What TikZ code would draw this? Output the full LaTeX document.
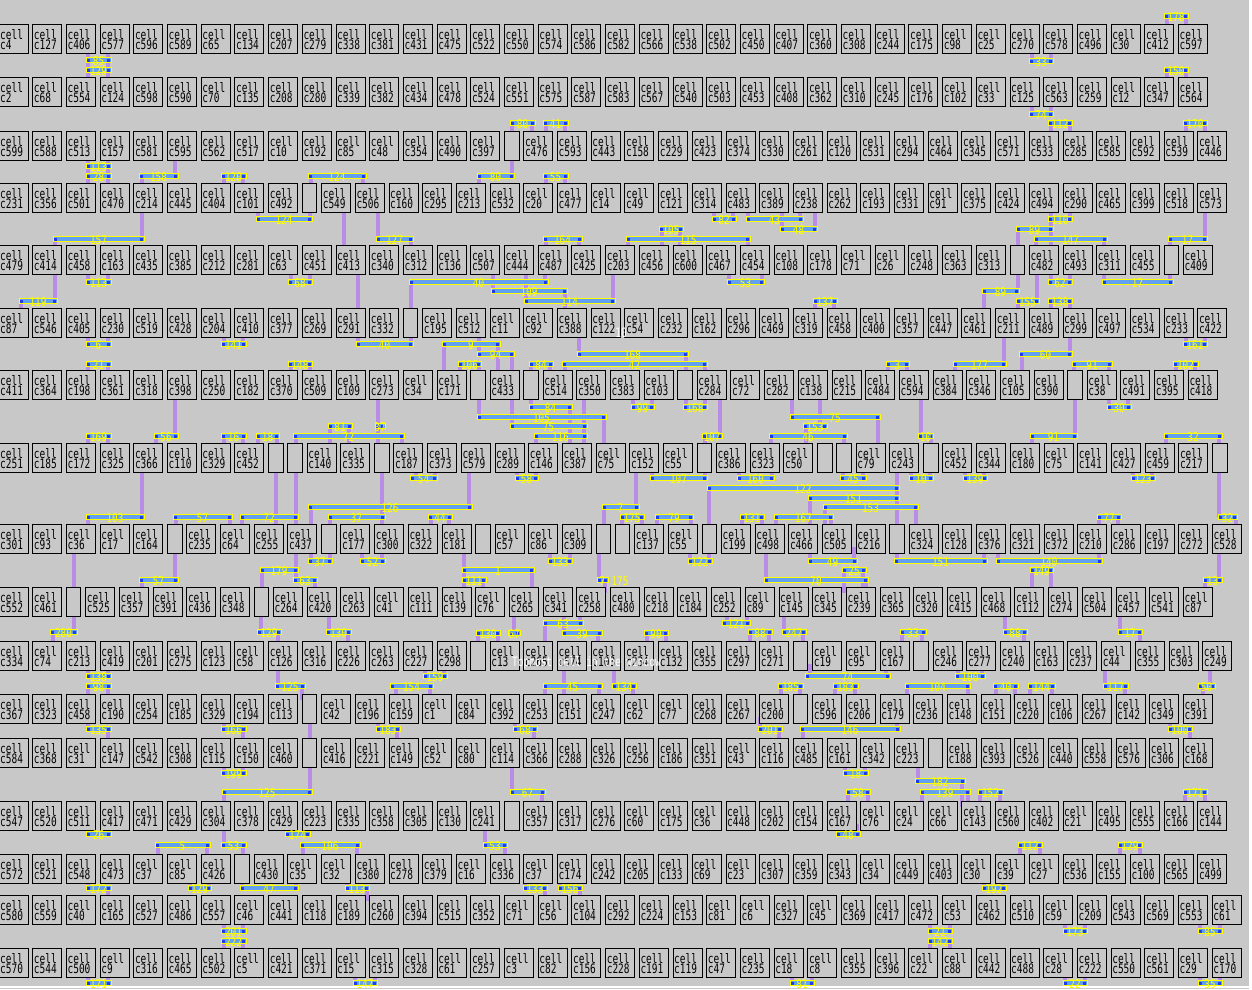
\documentclass[tikz,border=0pt]{standalone}
\usepackage{fontspec}
\newfontfamily\cellfont{DejaVu Sans Mono}[FakeStretch=0.73]
\newfontfamily\labelfont{DejaVu Sans Mono}[FakeStretch=0.78]
\usetikzlibrary{positioning}

\definecolor{bggray}{RGB}{200,200,200}
\definecolor{wirepurple}{RGB}{185,140,230}
\definecolor{barblue}{RGB}{100,160,240}
\definecolor{pinblue}{RGB}{30,60,235}
\definecolor{netyellow}{RGB}{255,255,0}

\pgfdeclarelayer{bg}
\pgfdeclarelayer{wires}
\pgfdeclarelayer{bars}
\pgfsetlayers{bg,wires,main,bars}

\newcount\gapno
\def\gapmark{-}
% one placement row: top y, list of cells (- = empty narrow slot)
\newcommand{\cellrow}[2]{%
  \xdef\cx{-1}%
  \foreach \c in {#2}{%
    \edef\tmpc{\c}%
    \ifx\tmpc\gapmark
      \global\advance\gapno by 1
      \node[gapbox] (gap\the\gapno) at (\cx,#1) {};
      \pgfmathsetmacro\nx{\cx+19.3}%
    \else
      \node[cellbox] (\c) at (\cx,#1) {};
      \node[celltxt] at ([shift={(1pt,-5pt)}]\c.north west) {cell\\\c};
      \pgfmathsetmacro\nx{\cx+33.7}%
    \fi
    \xdef\cx{\nx}%
  }}
% net segment: x1, x2, y, label, pins x/y
\newcommand{\net}[5]{%
  \begin{pgfonlayer}{wires}
    \foreach \px/\py in {#5}{\draw[wire] (\px,#3) -- (\px,\py);}
  \end{pgfonlayer}
  \begin{pgfonlayer}{bars}
    \draw[netbar] (#1,#3-2.5) rectangle (#2,#3+2.5);
    \fill[pinblue] (#1+1,#3-1.5) rectangle ++(3,3);
    \fill[pinblue] (#2-4,#3-1.5) rectangle ++(3,3);
    \node[netlabel] at ({(#1+#2)/2},#3+1) {#4};
  \end{pgfonlayer}}
\newcommand{\wire}[3]{%
  \begin{pgfonlayer}{wires}\draw[wire] (#1,#2) -- (#1,#3);\end{pgfonlayer}}

\begin{document}
\begin{tikzpicture}[
    x=1pt, y=-1pt,
    cellbox/.style={draw=black, line width=1pt, fill=bggray, minimum width=29pt, minimum height=29pt, inner sep=0pt, outer sep=0pt, anchor=north west},
    gapbox/.style={cellbox, minimum width=14.5pt},
    celltxt/.style={font=\cellfont\fontsize{13}{10}\selectfont, align=left, inner sep=0pt, anchor=north west},
    wire/.style={wirepurple, line width=4.5pt},
    netbar/.style={fill=barblue, draw=netyellow, line width=0.9pt},
    netlabel/.style={font=\labelfont\fontsize{12}{12}\selectfont, text=netyellow, inner sep=0pt},
    note/.style={font=\cellfont\fontsize{13}{13}\selectfont, text=white, inner sep=0pt}
]
\useasboundingbox (0,0) rectangle (1252,989);
\begin{pgfonlayer}{bg}
  \fill[bggray] (0,0) rectangle (1252,989);
  \fill[white] (1249,0) rectangle (1252,989);
  \fill[white] (0,986) rectangle (1252,988);
\end{pgfonlayer}

% placement rows
\cellrow{24}{c4,c127,c406,c577,c596,c589,c65,c134,c207,c279,c338,c381,c431,c475,c522,c550,c574,c586,c582,c566,c538,c502,c450,c407,c360,c308,c244,c175,c98,c25,c270,c578,c496,c30,c412,c597}
\cellrow{77}{c2,c68,c554,c124,c598,c590,c70,c135,c208,c280,c339,c382,c434,c478,c524,c551,c575,c587,c583,c567,c540,c503,c453,c408,c362,c310,c245,c176,c102,c33,c125,c563,c259,c12,c347,c564}
\cellrow{131}{c599,c588,c513,c157,c581,c595,c562,c517,c10,c192,c85,c48,c354,c490,c397,-,c476,c593,c443,c158,c229,c423,c374,c330,c261,c120,c531,c294,c464,c345,c571,c533,c285,c585,c592,c539,c446}
\cellrow{183}{c231,c356,c501,c470,c214,c445,c404,c101,c492,-,c549,c506,c160,c295,c213,c532,c20,c477,c14,c49,c121,c314,c483,c389,c238,c262,c193,c331,c91,c375,c424,c494,c290,c465,c399,c518,c573}
\cellrow{245}{c479,c414,c458,c163,c435,c385,c212,c281,c63,c451,c413,c340,c312,c136,c507,c444,c487,c425,c203,c456,c600,c467,c454,c108,c178,c71,c26,c248,c363,c313,-,c482,c493,c311,c455,-,c409}
\cellrow{308}{c87,c546,c405,c230,c519,c428,c204,c410,c377,c269,c291,c332,-,c195,c512,c11,c92,c388,c122,c54,c232,c162,c296,c469,c319,c458,c400,c357,c447,c461,c211,c489,c299,c497,c534,c233,c422}
\cellrow{370}{c411,c364,c198,c361,c318,c398,c250,c182,c370,c509,c109,c273,c34,c171,-,c433,-,c514,c350,c383,c103,-,c284,c72,c282,c138,c215,c484,c594,c384,c346,c105,c390,-,c38,c491,c395,c418}
\cellrow{443}{c251,c185,c172,c325,c366,c110,c329,c452,-,-,c140,c335,-,c187,c373,c579,c289,c146,c387,c75,c152,c55,-,c386,c323,c50,-,-,c79,c243,-,c452,c344,c180,c75,c141,c427,c459,c217,-}
\cellrow{524}{c301,c93,c36,c17,c164,-,c235,c64,c255,c437,-,c177,c300,c322,c181,-,c57,c86,c309,-,-,c137,c55,-,c199,c498,c466,c505,c216,-,c324,c128,c376,c321,c372,c210,c286,c197,c272,c528}
\cellrow{587}{c552,c461,-,c525,c357,c391,c436,c348,-,c264,c420,c263,c41,c111,c139,c76,c265,c341,c258,c480,c218,c184,c252,c89,c145,c345,c239,c365,c320,c415,c468,c112,c274,c504,c457,c541,c87}
\cellrow{641}{c334,c74,c213,c419,c201,c275,c123,c58,c126,c316,c226,c263,c227,c298,-,c13,c265,c574,c103,c234,c132,c355,c297,c271,-,c19,c95,c167,-,c246,c277,c240,c163,c237,c44,c355,c303,c249}
\cellrow{694}{c367,c323,c458,c190,c254,c185,c329,c194,c113,-,c42,c196,c159,c1,c84,c392,c253,c151,c247,c62,c77,c268,c267,c200,-,c596,c206,c179,c236,c148,c151,c220,c106,c267,c142,c349,c391}
\cellrow{738}{c584,c368,c31,c147,c542,c308,c115,c150,c460,-,c416,c221,c149,c52,c80,c114,c366,c288,c326,c256,c186,c351,c43,c116,c485,c161,c342,c223,-,c188,c393,c526,c440,c558,c576,c306,c168}
\cellrow{801}{c547,c520,c511,c417,c471,c429,c304,c378,c429,c223,c335,c358,c305,c130,c241,-,c357,c317,c276,c60,c175,c36,c448,c202,c154,c167,c76,c24,c66,c143,c560,c402,c21,c495,c555,c166,c144}
\cellrow{854}{c572,c521,c548,c473,c37,c85,c426,-,c430,c35,c32,c380,c278,c379,c16,c336,c37,c174,c242,c205,c133,c69,c23,c307,c359,c343,c34,c449,c403,c30,c39,c27,c536,c155,c100,c565,c499}
\cellrow{895}{c580,c559,c40,c165,c527,c486,c557,c46,c441,c118,c189,c260,c394,c515,c352,c71,c56,c104,c292,c224,c153,c81,c6,c327,c45,c369,c417,c472,c53,c462,c510,c59,c209,c543,c569,c553,c61}
\cellrow{948}{c570,c544,c500,c9,c316,c465,c502,c5,c421,c371,c15,c315,c328,c61,c257,c3,c82,c156,c228,c191,c119,c47,c235,c18,c8,c355,c396,c22,c88,c442,c488,c28,c222,c550,c561,c29,c170}

% routing above row 1 and channel 1
\net{1164}{1188}{16}{178}{1167/30,1186/30}
\net{86}{111}{60}{85}{88/47,108/47,88/83,108/83}
\net{86}{111}{70}{129}{88/83,108/83}
\net{1029}{1053}{61}{33}{1032/47,1051/47}
\net{1164}{1188}{70}{150}{1167/83,1186/83}
% channel 2
\net{1029}{1053}{114}{74}{1032/100,1051/100}
\net{1048}{1072}{123}{112}{1051/137,1070/137}
\net{1183}{1207}{123}{170}{1186/137,1205/137}
\net{510}{535}{123}{80}{512/137,532/137}
\net{543}{568}{123}{41}{546/137,565/137}
% channel 3
\net{86}{111}{166}{113}{88/154,108/154}
\net{86}{111}{176}{28}{88/154,108/154,88/189,108/189}
\net{139}{178}{176}{158}{142/189,175/154}
\net{221}{246}{176}{120}{224/189,243/189}
\net{308}{366}{176}{124}{311/189,363/189}
\net{477}{514}{176}{80}{479/189,512/154}
\net{543}{568}{176}{55}{546/189,565/189}
% channel 4
\net{256}{312}{219}{124}{258/206,310/206}
\net{53}{144}{239}{157}{55/251,142/206}
\net{376}{413}{239}{127}{378/206,411/251}
\wire{344}{206}{251}
\net{543}{582}{239}{164}{546/251,579/251}
\net{659}{683}{229}{105}{662/251,680/251}
\net{626}{750}{239}{115}{628/251,748/251}
\net{712}{736}{219}{82}{714/206,733/206}
\net{746}{803}{219}{43}{748/206,800/206}
\net{780}{817}{229}{48}{782/206,815/206}
\net{1048}{1072}{219}{110}{1051/206,1070/206}
\net{1016}{1053}{229}{89}{1018/251,1051/206,1051/251}
\net{1034}{1107}{239}{147}{1036/251,1104/251}
\net{1168}{1207}{239}{17}{1170/251,1205/206}
% channel 5
\net{86}{111}{282}{113}{88/268,108/268}
\net{19}{57}{301}{119}{21/314,55/268}
\net{288}{312}{282}{68}{291/268,310/268}
\wire{358}{268}{314}
\net{409}{548}{282}{40}{411/314,545/268}
\net{491}{567}{291}{109}{493/268,565/314}
\net{524}{615}{301}{114}{526/268,613/268}
\net{727}{764}{282}{53}{729/268,762/268}
\net{813}{837}{301}{137}{815/314,834/314}
\net{1048}{1072}{282}{62}{1051/268,1070/268}
\net{1102}{1173}{282}{17}{1104/268,1170/268}
\net{982}{1019}{291}{89}{984/314,1018/268}
\net{1016}{1039}{301}{155}{1018/314,1037/268}
\net{1048}{1072}{301}{138}{1051/314,1070/314}
% channel 6
\net{86}{111}{344}{6}{88/331,108/331}
\net{221}{246}{344}{141}{224/331,243/331}
\net{356}{413}{344}{40}{358/331,411/331}
\net{86}{111}{364}{21}{88/376,108/376}
\net{288}{312}{364}{148}{291/376,310/376}
\net{442}{500}{344}{9}{444/376,498/376}
\net{477}{514}{354}{94}{479/331,512/376}
\net{458}{481}{364}{106}{460/376,479/376}
\net{529}{553}{364}{84}{531/376,550/376}
\net{577}{688}{354}{168}{579/331,686/376}
\net{562}{707}{364}{42}{565/376,705/376}
\net{886}{909}{364}{3}{888/376,907/376}
\net{953}{1006}{364}{177}{955/376,1004/331}
\net{1019}{1072}{354}{60}{1022/376,1070/331}
\net{1072}{1112}{364}{91}{1074/376,1109/376}
\net{1183}{1207}{344}{161}{1186/331,1205/331}
\net{1173}{1198}{364}{102}{1176/376,1195/376}
% channel 7
\net{86}{111}{436}{169}{88/449,108/449}
\net{154}{178}{436}{56}{156/449,175/393}
\net{221}{246}{436}{16}{224/449,243/449}
\net{256}{279}{436}{18}{258/449,277/449}
\net{328}{352}{426}{81}{330/449,349/449}
\net{293}{404}{436}{72}{296/449,402/449}
\net{375}{385}{426}{37}{378/393,378/449}
\net{477}{606}{417}{105}{479/393,604/449}
\net{529}{572}{407}{84}{531/393,570/449}
\net{510}{587}{426}{75}{512/393,584/449}
\net{534}{587}{436}{116}{536/449,584/449}
\wire{584}{393}{449}
\net{631}{654}{407}{99}{633/393,652/393}
\net{683}{707}{407}{168}{686/393,705/393}
\net{702}{722}{436}{107}{720/393,705/449}
\net{790}{880}{417}{75}{792/393,878/449}
\net{803}{827}{426}{153}{820/393,806/449}
\net{769}{847}{436}{46}{771/449,844/449}
\net{918}{933}{436}{10}{921/393,931/449}
\net{1030}{1077}{436}{91}{1032/449,1075/393}
\net{1164}{1222}{436}{32}{1166/449,1219/449}
\net{1107}{1131}{407}{30}{1109/393,1128/393}
% channel 8
\net{410}{437}{478}{54}{416/466,435/466}
\net{515}{538}{478}{58}{517/466,536/466}
\net{650}{707}{478}{107}{652/466,705/466}
\net{737}{774}{478}{160}{739/466,772/466}
\net{840}{866}{478}{45}{843/466,863/466}
\net{909}{933}{478}{10}{911/466,930/466}
\net{963}{987}{478}{139}{965/466,984/466}
\net{1131}{1155}{478}{123}{1133/466,1152/466}
\net{707}{899}{488}{122}{709/530,897/466,897/530}
\net{808}{899}{498}{151}{810/530,897/530}
\net{308}{472}{507}{126}{311/530,469/466}
\net{602}{639}{507}{7}{604/530,636/466}
\net{823}{918}{507}{153}{825/530,916/530}
\net{86}{144}{517}{103}{88/530,142/466}
\net{173}{232}{517}{57}{176/530,230/530}
\net{240}{298}{517}{72}{242/530,276/466,296/466,276/530,296/530}
\net{328}{385}{517}{37}{330/530,382/530}
\wire{382}{466}{530}
\net{428}{452}{517}{44}{431/530,449/530}
\net{620}{644}{517}{175}{622/530,642/530}
\net{655}{693}{517}{79}{657/530,691/530}
\net{740}{764}{517}{131}{742/530,762/530}
\net{774}{833}{517}{167}{776/530,831/530}
\net{1097}{1121}{517}{77}{1099/530,1118/530}
\net{1218}{1237}{517}{32}{1219/466,1236/530}
% channel 9
\net{308}{332}{561}{37}{311/547,330/547}
\net{360}{385}{561}{52}{362/547,382/547}
\net{548}{572}{561}{133}{550/547,570/547}
\net{688}{712}{561}{122}{690/547,709/547}
\net{894}{987}{561}{151}{897/547,984/547}
\net{996}{1102}{561}{140}{998/547,1099/547}
\net{808}{857}{561}{49}{810/547,854/547}
\net{842}{866}{570}{25}{844/593,863/593}
\net{1030}{1053}{570}{149}{1032/593,1051/593}
\net{462}{534}{570}{1}{464/547,464/593,532/593}
\net{462}{486}{580}{111}{464/593,483/593}
\net{1203}{1222}{580}{13}{1205/593,1219/547}
\net{139}{178}{580}{57}{142/593,175/547}
\net{260}{298}{570}{179}{262/593,296/547}
\net{293}{317}{580}{63}{296/547,315/593}
\net{597}{608}{580}{7}{599/547,605/593}
\net{764}{868}{580}{70}{766/547,866/593}
\wire{74}{547}{632}
\node[netlabel] (lbl175) at (620,581) {175};
% channel 10
\net{50}{77}{632}{280}{53/647,74/610}
\net{257}{281}{632}{129}{261/610,278/647}
\net{326}{351}{632}{130}{329/610,348/647}
\net{476}{500}{633}{130}{478/647,498/647}
\net{508}{520}{633}{67}{514/610}
\net{543}{583}{623}{63}{545/647,580/610}
\net{562}{602}{633}{39}{564/610,598/647}
\net{644}{668}{633}{90}{647/647,666/647}
\net{722}{750}{623}{121}{727/610,747/610}
\net{748}{772}{632}{88}{750/647,769/647}
\net{782}{806}{632}{247}{784/610,803/647}
\net{900}{926}{632}{33}{902/647,922/647}
\net{1003}{1027}{632}{88}{1005/610,1024/647}
\net{1118}{1142}{632}{17}{1120/610,1140/647}
% channel 11
\net{86}{111}{676}{138}{88/664,108/664}
\net{86}{111}{686}{98}{88/700,108/700}
\net{275}{305}{686}{125}{278/664,302/700}
\net{423}{447}{676}{159}{425/664,444/664}
\net{390}{433}{686}{154}{396/700,430/700}
\net{543}{602}{686}{45}{545/700,599/700}
\wire{564}{664}{700}
\net{612}{636}{686}{134}{614/664,633/700}
\net{778}{803}{686}{185}{781/700,800/700}
\net{805}{890}{676}{74}{810/664,886/664}
\net{833}{858}{686}{183}{835/700,855/700}
\net{905}{970}{686}{104}{907/700,968/700}
\net{955}{985}{676}{100}{958/664,982/664}
\net{993}{1018}{686}{40}{996/700,1015/700}
\net{1028}{1055}{686}{144}{1030/700,1052/700}
\net{1103}{1128}{686}{117}{1105/664,1125/700}
\net{1198}{1215}{686}{50}{1203/700,1210/664}
% channel 12
\net{86}{111}{729}{135}{88/717,108/744}
\net{221}{246}{729}{166}{224/717,243/744}
\net{376}{400}{729}{183}{378/717,397/744}
\net{513}{537}{729}{68}{515/717,534/744}
\net{758}{782}{729}{201}{760/717,779/744}
\net{800}{900}{729}{146}{803/744,897/717}
\net{1168}{1192}{729}{100}{1170/717,1190/744}
% channel 13
\net{221}{246}{773}{199}{224/761,243/761}
\net{222}{312}{792}{125}{224/807,310/700}
\net{510}{545}{792}{67}{512/761,542/807}
\net{843}{868}{773}{18}{845/761,865/761}
\net{846}{870}{792}{58}{848/807,868/807}
\net{915}{965}{781}{182}{918/761,962/807}
\net{920}{970}{792}{139}{922/807,968/807}
\net{978}{1003}{792}{152}{980/807,1000/807}
\net{1183}{1207}{792}{171}{1185/807,1205/807}
% channel 14
\net{86}{111}{834}{26}{88/824,108/824}
\net{155}{210}{845}{5}{158/860,207/860}
\net{221}{246}{845}{53}{224/824,243/860}
\net{285}{310}{834}{174}{288/824,307/824}
\net{300}{360}{845}{106}{303/860,357/860}
\net{483}{507}{845}{53}{485/824,505/860}
\net{836}{860}{834}{48}{838/824,857/824}
\net{1018}{1042}{845}{112}{1020/860,1040/860}
\net{1118}{1142}{845}{129}{1120/860,1140/860}
% channel 15
\net{86}{111}{888}{172}{88/877,108/901}
\net{188}{211}{888}{129}{190/877,209/877}
\net{240}{298}{888}{47}{242/877,296/877}
\net{345}{369}{888}{113}{347/877,367/901}
\net{523}{547}{888}{133}{525/877,545/901}
\net{558}{582}{888}{156}{560/877,580/901}
\net{982}{1006}{888}{192}{984/877,1003/877}
% channel 16
\net{221}{246}{931}{201}{224/918,243/918}
\net{221}{246}{941}{222}{224/954,243/954}
\net{928}{952}{931}{21}{930/918,950/918}
\net{928}{952}{941}{142}{930/954,950/954}
\net{1063}{1087}{931}{173}{1065/918,1085/918}
\net{1198}{1222}{931}{85}{1200/918,1220/918}
% below row 17
\net{86}{111}{983}{171}{88/971,108/971}
\net{353}{377}{983}{147}{355/971,375/971}
\net{790}{814}{983}{81}{792/971,812/971}
\net{1063}{1087}{983}{22}{1065/971,1085/971}
\net{1198}{1222}{983}{35}{1200/971,1220/971}

\node[note, anchor=base west] (topmost) at (512,666) {Topmost cell in the window};
\node[note] (tenmark) at (621,333) {10};
\end{tikzpicture}
\end{document}
